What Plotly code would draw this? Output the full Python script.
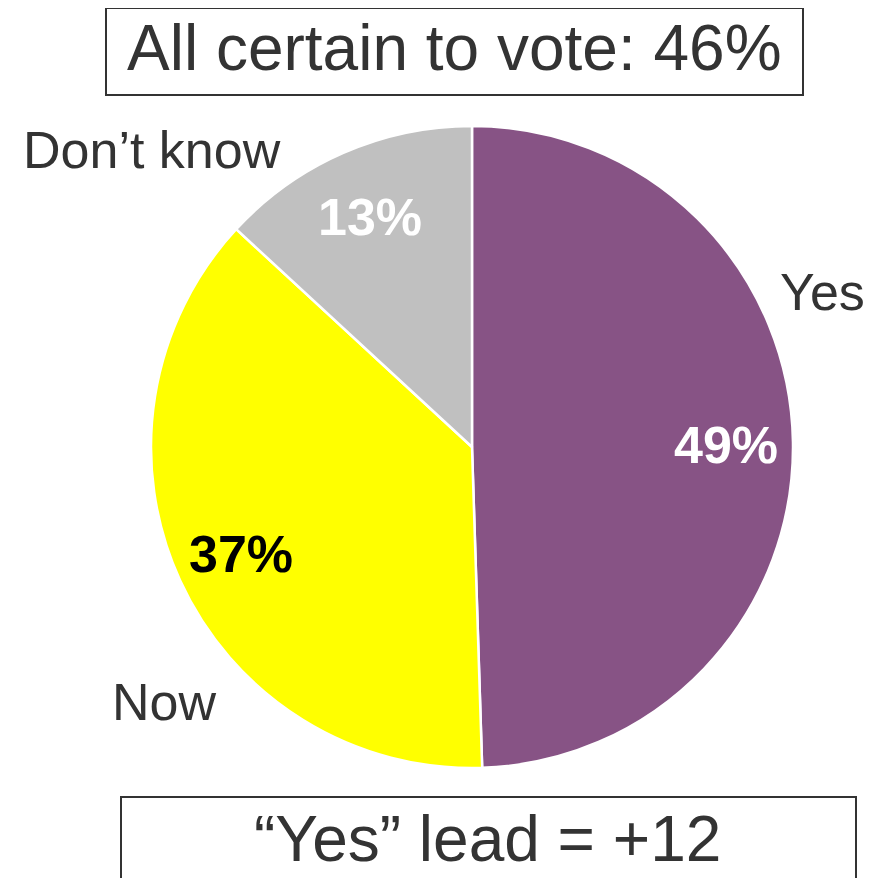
import math
import plotly.graph_objects as go

# Données
labels = ["Yes", "Now", "Don\u2019t know"]
values = [49, 37, 13]
colors = ["#875385", "#FFFF00", "#C0C0C0"]
pct_colors = ["white", "black", "white"]
title_text = "All certain to vote: 46%"
lead_text = "\u201cYes\u201d lead = +12"

W, H = 883, 878
OFF = 8  # marge par défaut du <body> de la page
FONT = "Liberation Sans, Arial, sans-serif"
TXT = "#333333"


def px(x):
    return (x - OFF) / W


def py(y):
    return 1 - (y - OFF) / H


# Domaine du camembert (pixels -> paper)
cx, cy, r = 472, 447, 321
dom_x = [px(cx - r), px(cx + r)]
dom_y = [py(cy + r), py(cy - r)]

fig = go.Figure()

fig.add_trace(go.Pie(
    labels=labels,
    values=values,
    sort=False,
    direction='clockwise',
    rotation=0,
    textinfo='none',
    hoverinfo='label+value',
    marker=dict(colors=colors, line=dict(color='white', width=2.5)),
    domain=dict(x=dom_x, y=dom_y),
    showlegend=False
))

# Pourcentages dans les parts (positions calculées à partir des valeurs)
total = sum(values)
start = 0.0
for lab, v, c in zip(labels, values, pct_colors):
    mid = (start + v / 2) / total * 2 * math.pi
    start += v
    x = cx + 0.79 * r * math.sin(mid)
    y = cy - 0.79 * r * math.cos(mid) + 2
    fig.add_annotation(
        x=px(x), y=py(y), xref='paper', yref='paper',
        text=f"<b>{v}%</b>", showarrow=False,
        xanchor='center', yanchor='middle',
        font=dict(family=FONT, size=52, color=c)
    )

# Étiquettes extérieures
outside = {"Yes": (822, 292), "Now": (164, 702), "Don\u2019t know": (152, 150)}
for lab in labels:
    x, y = outside[lab]
    fig.add_annotation(
        x=px(x), y=py(y), xref='paper', yref='paper',
        text=lab, showarrow=False, xanchor='center', yanchor='middle',
        font=dict(family=FONT, size=52, color=TXT)
    )

# Cadres
fig.add_shape(type='rect', xref='paper', yref='paper',
              x0=px(106), x1=px(803), y0=py(95), y1=py(8),
              line=dict(color=TXT, width=2), fillcolor='white')
fig.add_shape(type='rect', xref='paper', yref='paper',
              x0=px(121), x1=px(856), y0=py(900), y1=py(797),
              line=dict(color=TXT, width=2), fillcolor='white')

fig.add_annotation(
    x=px(454), y=py(48), xref='paper', yref='paper',
    text=title_text, showarrow=False, xanchor='center', yanchor='middle',
    font=dict(family=FONT, size=64, color=TXT)
)
fig.add_annotation(
    x=px(487), y=py(839), xref='paper', yref='paper',
    text=lead_text, showarrow=False, xanchor='center', yanchor='middle',
    font=dict(family=FONT, size=64, color=TXT)
)

fig.update_layout(
    width=W, height=H,
    margin=dict(l=0, r=0, t=0, b=0),
    paper_bgcolor='white',
    plot_bgcolor='white',
)

fig.write_html("out.html")
